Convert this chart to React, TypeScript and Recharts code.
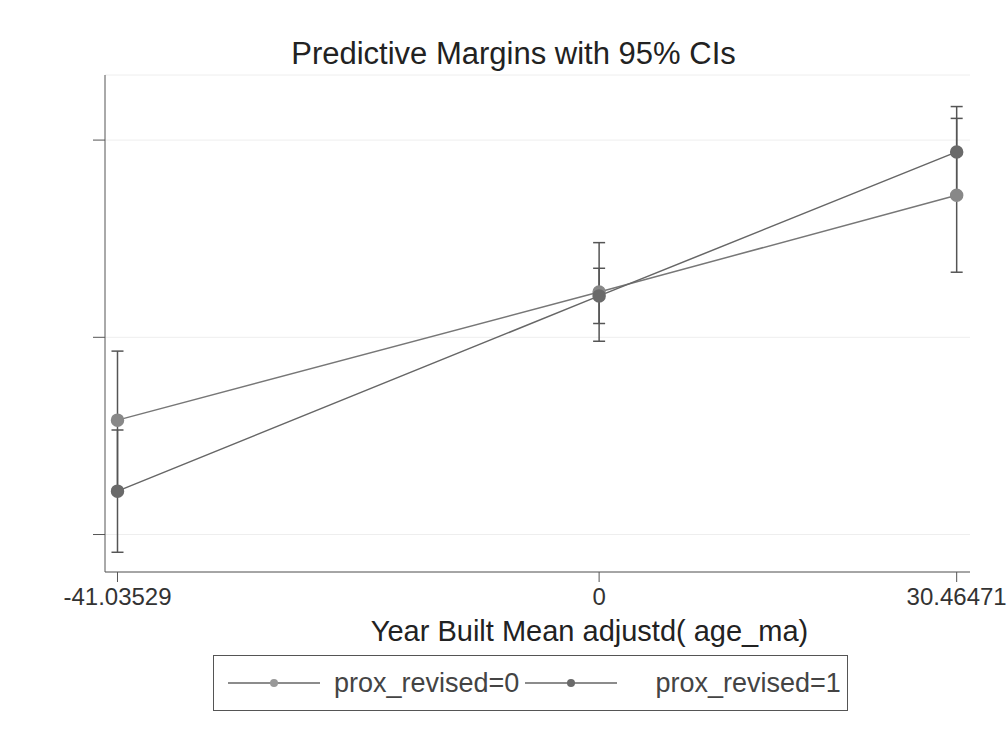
import { LineChart, Line, XAxis, YAxis, CartesianGrid, ErrorBar } from 'recharts';

// x positions (age_ma, mean adjusted)
const xValues = [-41.03529, 0, 30.46471];

// prox_revised=0 : margins and 95% CI bounds
const margin0 = [0.58, 1.23, 1.72];
const low0 = [0.23, 0.98, 1.33];
const high0 = [0.93, 1.48, 2.11];

// prox_revised=1
const margin1 = [0.22, 1.21, 1.94];
const low1 = [-0.09, 1.07, 1.71];
const high1 = [0.53, 1.35, 2.17];

const yTicks = [0, 1, 2];

const chartData = xValues.map((x, i) => ({
  x,
  m0: margin0[i],
  e0: [margin0[i] - low0[i], high0[i] - margin0[i]],
  m1: margin1[i],
  e1: [margin1[i] - low1[i], high1[i] - margin1[i]],
}));

const font = '"Liberation Sans", Arial, sans-serif';

function LegendMark({ color }: { color: string }) {
  return (
    <svg width={92} height={14} style={{ verticalAlign: 'middle', display: 'block' }}>
      <line x1={0} y1={7} x2={92} y2={7} stroke="#666" strokeWidth={1.5} />
      <circle cx={46} cy={7} r={4} fill={color} />
    </svg>
  );
}

export default function App() {
  return (
    <div style={{ position: 'absolute', left: 0, top: 0, width: 1007, height: 742, background: '#fff', fontFamily: font }}>
      <div style={{ position: 'absolute', left: 0, width: 1007, top: 36, textAlign: 'center', fontSize: 31, color: '#222', paddingLeft: 20, boxSizing: 'border-box' }}>
        Predictive Margins with 95% CIs
      </div>
      <LineChart width={1007} height={742} data={chartData} margin={{ top: 75, right: 37, left: 45, bottom: 110 }}>
        <CartesianGrid horizontal vertical={false} stroke="#eeeeee" />
        <XAxis
          type="number"
          dataKey="x"
          domain={[-42.1, 31.6]}
          ticks={xValues}
          allowDataOverflow
          height={60}
          stroke="#555"
          tickSize={10}
          tick={{ fontSize: 24, fill: '#333', fontFamily: font, dy: 4 }}
          tickFormatter={(v: number) => String(v)}
        />
        <YAxis
          type="number"
          domain={[-0.19, 2.33]}
          ticks={yTicks}
          allowDataOverflow
          width={60}
          stroke="#555"
          tickSize={12}
          tickFormatter={() => ''}
        />
        <Line
          type="linear"
          dataKey="m0"
          stroke="#777"
          strokeWidth={1.5}
          dot={{ r: 6, fill: '#888', stroke: '#888' }}
          isAnimationActive={false}
        >
          <ErrorBar dataKey="e0" direction="y" width={6} stroke="#555" strokeWidth={1.5} />
        </Line>
        <Line
          type="linear"
          dataKey="m1"
          stroke="#666"
          strokeWidth={1.5}
          dot={{ r: 6, fill: '#6a6a6a', stroke: '#6a6a6a' }}
          isAnimationActive={false}
        >
          <ErrorBar dataKey="e1" direction="y" width={6} stroke="#555" strokeWidth={1.5} />
        </Line>
      </LineChart>
      <div style={{ position: 'absolute', left: 0, width: 1007, paddingLeft: 172, boxSizing: 'border-box', textAlign: 'center', top: 615, fontSize: 29, color: '#222' }}>
        Year Built Mean adjustd( age_ma)
      </div>
      <div
        style={{
          position: 'absolute',
          left: 213,
          top: 655,
          width: 635,
          height: 56,
          border: '1px solid #555',
          boxSizing: 'border-box',
          display: 'flex',
          alignItems: 'center',
          fontSize: 27,
          color: '#444',
        }}
      >
        <span style={{ marginLeft: 14 }}><LegendMark color="#999" /></span>
        <span style={{ marginLeft: 14 }}>prox_revised=0</span>
        <span style={{ marginLeft: 6 }}><LegendMark color="#6a6a6a" /></span>
        <span style={{ marginLeft: 38 }}>prox_revised=1</span>
      </div>
    </div>
  );
}
